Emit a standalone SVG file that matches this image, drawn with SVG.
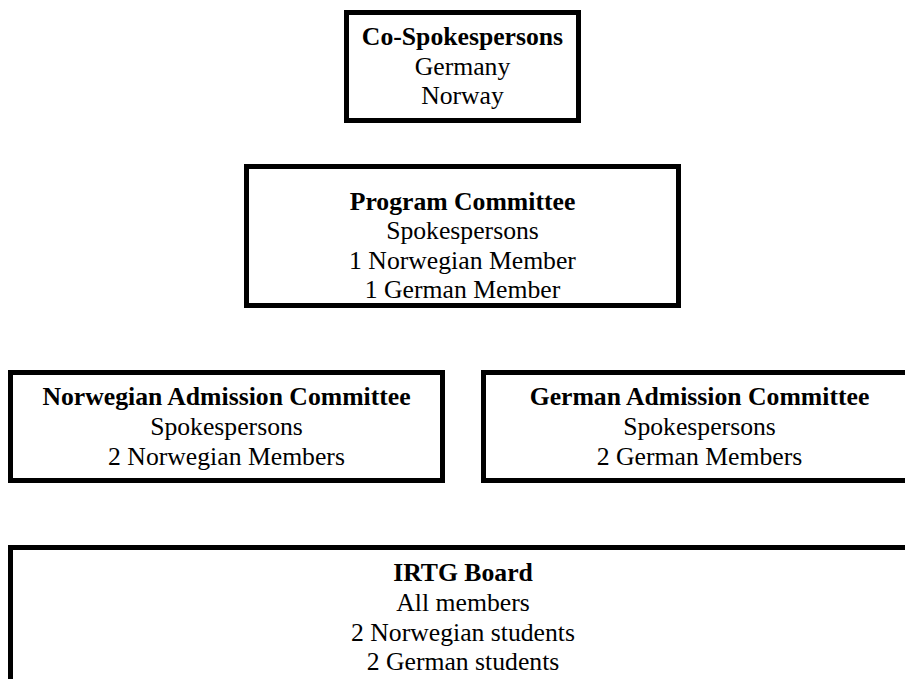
<svg xmlns="http://www.w3.org/2000/svg" width="905" height="679" viewBox="0 0 905 679">
<style>
.box{fill:#fff;stroke:#000;stroke-width:5}
text{font-family:"Liberation Serif","Times New Roman",serif;font-size:25.7px;fill:#000;text-anchor:middle}
.t{font-weight:bold}
</style>
<rect width="905" height="679" fill="#fff"/>
<g id="connectors"></g>
<g id="co-spokespersons">
<rect class="box" x="346.5" y="12.5" width="232" height="108"/>
<text class="t" x="462.5" y="44.5">Co-Spokespersons</text>
<text x="462.5" y="74.5">Germany</text>
<text x="462.5" y="104">Norway</text>
</g>
<g id="program-committee">
<rect class="box" x="246.5" y="166.5" width="432" height="139"/>
<text class="t" x="462.5" y="209.5">Program Committee</text>
<text x="462.5" y="239">Spokespersons</text>
<text x="462.5" y="268.5">1 Norwegian Member</text>
<text x="462.5" y="298">1 German Member</text>
</g>
<g id="norwegian-admission">
<rect class="box" x="10.5" y="372.5" width="432" height="108"/>
<text class="t" x="226.5" y="405">Norwegian Admission Committee</text>
<text x="226.5" y="434.5">Spokespersons</text>
<text x="226.5" y="464.5">2 Norwegian Members</text>
</g>
<g id="german-admission">
<rect class="box" x="483.5" y="372.5" width="432" height="108"/>
<text class="t" x="699.5" y="405">German Admission Committee</text>
<text x="699.5" y="434.5">Spokespersons</text>
<text x="699.5" y="464.5">2 German Members</text>
</g>
<g id="irtg-board">
<rect class="box" x="10.5" y="547.5" width="905" height="200"/>
<text class="t" x="463" y="581">IRTG Board</text>
<text x="463" y="611">All members</text>
<text x="463" y="641">2 Norwegian students</text>
<text x="463" y="670">2 German students</text>
</g>
</svg>
